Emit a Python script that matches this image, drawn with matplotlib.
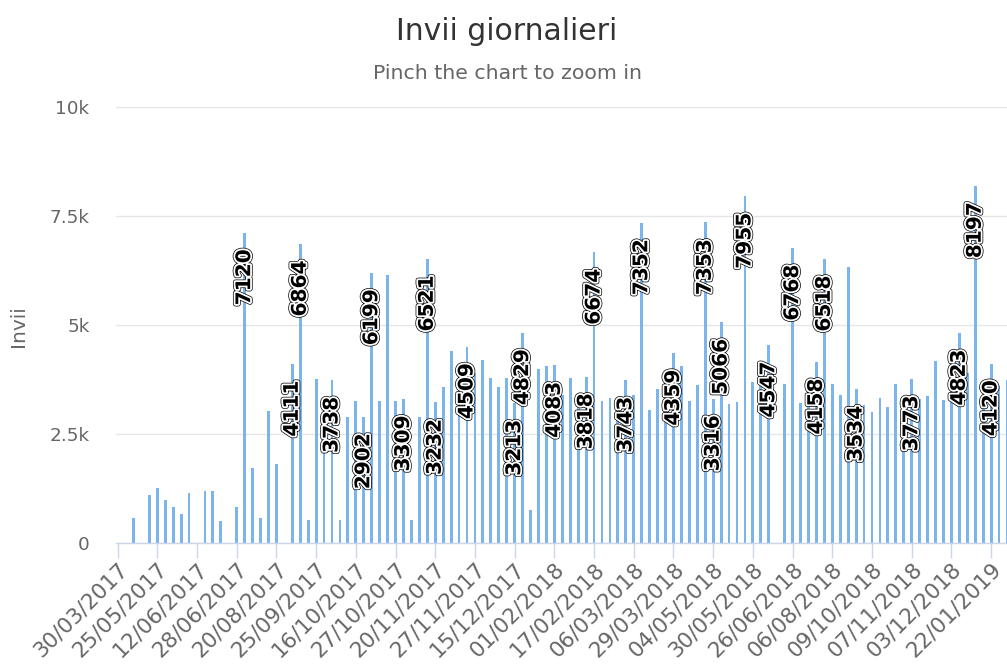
import matplotlib
matplotlib.use("Agg")
import matplotlib.pyplot as plt
import matplotlib.patheffects as pe

# invii per categoria (giorni)
invii = [
    0, 0, 578, 0, 1110, 1272, 987, 825, 671, 1157,
    0, 1195, 1195, 501, 0, 825, 7120, 1727, 578, 3022,
    1812, 0, 4111, 6864, 540, 3755, 3000, 3738, 540, 2891,
    3261, 2902, 6199, 3261, 6145, 3261, 3309, 540, 2891, 6521,
    3232, 3585, 4402, 3600, 4509, 3900, 4202, 3793, 3585, 3793,
    3213, 4829, 771, 3994, 4071, 4083, 3400, 3793, 3200, 3818,
    6674, 3261, 3338, 3000, 3743, 3392, 7352, 3061, 3547, 3700,
    4359, 4071, 3261, 3631, 7353, 3316, 5066, 3200, 3246, 7955,
    3701, 3600, 4547, 0, 3647, 6768, 3207, 3400, 4158, 6518,
    3647, 3400, 6338, 3534, 3161, 3007, 3323, 3130, 3647, 3200,
    3773, 3300, 3377, 4187, 3284, 3900, 4823, 3900, 8197, 3500,
    4120, 3600, 3747,
]

# categorie che mostrano l'etichetta del valore
etichettati = [16, 22, 23, 27, 31, 32, 36, 39, 40, 44, 50, 51, 55, 59, 60,
               64, 66, 70, 74, 75, 76, 79, 82, 85, 88, 89, 93, 100, 106, 108, 110]

date_tick = ["30/03/2017", "25/05/2017", "12/06/2017", "28/06/2017", "20/08/2017",
             "25/09/2017", "16/10/2017", "27/10/2017", "20/11/2017", "27/11/2017",
             "15/12/2017", "01/02/2018", "17/02/2018", "06/03/2018", "29/03/2018",
             "04/05/2018", "30/05/2018", "26/06/2018", "06/08/2018", "09/10/2018",
             "07/11/2018", "03/12/2018", "22/01/2019"]

y_ticks = [0, 2500, 5000, 7500, 10000]
y_tick_labels = ["0", "2.5k", "5k", "7.5k", "10k"]

W, H = 1007, 671
fig = plt.figure(figsize=(W / 100, H / 100), dpi=100)
ax = fig.add_axes([116 / W, 1 - 543.3 / H, (W - 116) / W, (543.3 - 107) / H])

x = list(range(len(invii)))
ax.bar(x, invii, width=0.36, color="#7cb5ec", zorder=2)

outline = [pe.Stroke(linewidth=3.6, foreground="black"),
           pe.Stroke(linewidth=2.6, foreground="white"),
           pe.Normal()]
for i in etichettati:
    ax.annotate(str(invii[i]), (i, invii[i]), xytext=(0, -12), textcoords="offset points",
                rotation=90, ha="center", va="top", fontsize=14.5, fontweight="bold",
                color="black", path_effects=outline, zorder=4)

ax.set_xlim(-0.2, 112.0)
ax.set_ylim(0, 10000)

ax.set_yticks(y_ticks)
ax.set_yticklabels(y_tick_labels)
ax.tick_params(axis="y", length=0, pad=19, labelsize=13.3, labelcolor="#666666")
ax.yaxis.grid(True, color="#e6e6e6", linewidth=1, zorder=0)
ax.set_axisbelow(True)

ax.set_xticks(range(0, len(invii), 5))
ax.set_xticklabels(date_tick, rotation=45, ha="right", va="top", rotation_mode="anchor")
ax.tick_params(axis="x", length=10.8, width=1, color="#ccd6eb", pad=0.5,
               labelsize=15.6, labelcolor="#666666")

for s in ["top", "right", "left"]:
    ax.spines[s].set_visible(False)
ax.spines["bottom"].set_color("#ccd6eb")
ax.spines["bottom"].set_linewidth(1)

fig.text(506.5 / W, 1 - 40 / H, "Invii giornalieri", ha="center", va="baseline",
         fontsize=21.5, color="#333333")
fig.text(507.5 / W, 1 - 79 / H, "Pinch the chart to zoom in", ha="center", va="baseline",
         fontsize=14.7, color="#666666")
fig.text(18 / W, 1 - 326 / H, "Invii", rotation=90, ha="center", va="center",
         fontsize=14.5, color="#666666")

fig.savefig("out.png", dpi=100, facecolor="white")
